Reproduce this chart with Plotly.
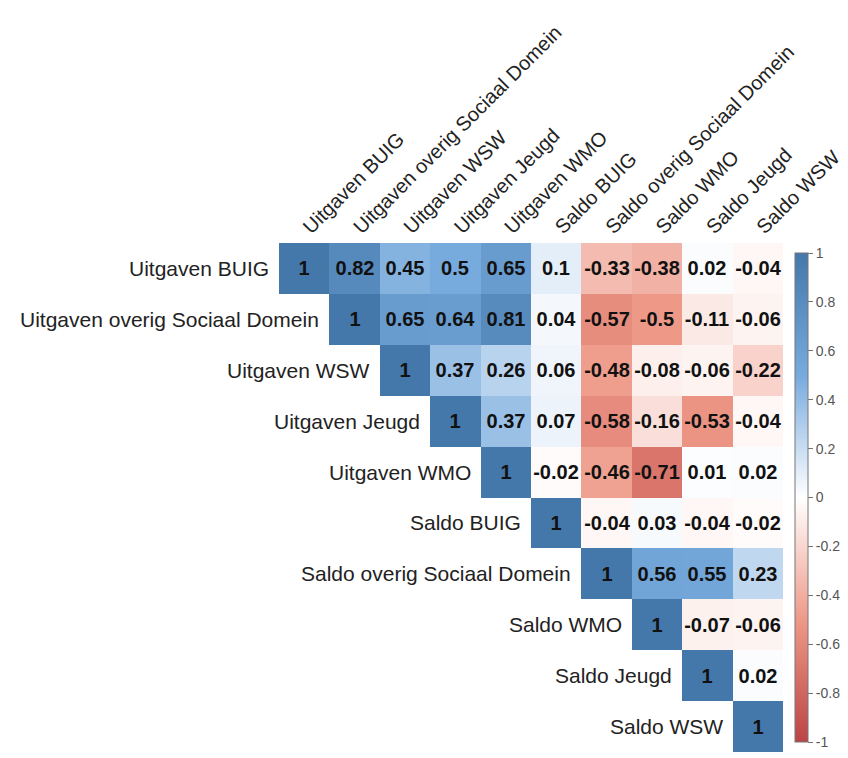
import plotly.graph_objects as go

variables = [
    "Uitgaven BUIG",
    "Uitgaven overig Sociaal Domein",
    "Uitgaven WSW",
    "Uitgaven Jeugd",
    "Uitgaven WMO",
    "Saldo BUIG",
    "Saldo overig Sociaal Domein",
    "Saldo WMO",
    "Saldo Jeugd",
    "Saldo WSW",
]

# upper triangle of the correlation matrix, row by row (diagonal included)
row_uitgaven_buig = [1, 0.82, 0.45, 0.5, 0.65, 0.1, -0.33, -0.38, 0.02, -0.04]
row_uitgaven_overig = [1, 0.65, 0.64, 0.81, 0.04, -0.57, -0.5, -0.11, -0.06]
row_uitgaven_wsw = [1, 0.37, 0.26, 0.06, -0.48, -0.08, -0.06, -0.22]
row_uitgaven_jeugd = [1, 0.37, 0.07, -0.58, -0.16, -0.53, -0.04]
row_uitgaven_wmo = [1, -0.02, -0.46, -0.71, 0.01, 0.02]
row_saldo_buig = [1, -0.04, 0.03, -0.04, -0.02]
row_saldo_overig = [1, 0.56, 0.55, 0.23]
row_saldo_wmo = [1, -0.07, -0.06]
row_saldo_jeugd = [1, 0.02]
row_saldo_wsw = [1]

upper_rows = [
    row_uitgaven_buig, row_uitgaven_overig, row_uitgaven_wsw,
    row_uitgaven_jeugd, row_uitgaven_wmo, row_saldo_buig,
    row_saldo_overig, row_saldo_wmo, row_saldo_jeugd, row_saldo_wsw,
]

cbar_ticks = [-1, -0.8, -0.6, -0.4, -0.2, 0, 0.2, 0.4, 0.6, 0.8, 1]

n = len(variables)
z = [[None] * n for _ in range(n)]
labels = [[""] * n for _ in range(n)]
for i, row in enumerate(upper_rows):
    for k, v in enumerate(row):
        z[i][i + k] = v
        labels[i][i + k] = f"{v:g}"

colorscale = [
    [0.0, "#BB4444"],
    [0.25, "#EE9988"],
    [0.5, "#FFFFFF"],
    [0.75, "#77AADD"],
    [1.0, "#4477AA"],
]

FONT = "Liberation Sans, Arial, sans-serif"

# plot area spans x 279..783 px, so the colorbar sits a few px to its right
PLOT_L, PLOT_R = 279, 65
plot_w = 848 - PLOT_L - PLOT_R
cbar_x = (795 - PLOT_L) / plot_w

fig = go.Figure(
    go.Heatmap(
        z=z,
        x=list(range(n)),
        y=list(range(n)),
        text=labels,
        texttemplate="<b>%{text}</b>",
        textfont=dict(family=FONT, size=20, color="#111111"),
        colorscale=colorscale,
        zmin=-1,
        zmax=1,
        xgap=0,
        ygap=0,
        hoverongaps=False,
        colorbar=dict(
            x=cbar_x,
            xanchor="left",
            xpad=0,
            y=0.5,
            yanchor="middle",
            len=1.0,
            lenmode="fraction",
            thickness=13,
            outlinewidth=1,
            outlinecolor="#777777",
            tickvals=cbar_ticks,
            ticktext=[f"{t:g}" for t in cbar_ticks],
            ticks="outside",
            ticklen=5,
            tickcolor="#777777",
            tickfont=dict(family=FONT, size=14, color="#555555"),
        ),
    )
)

# row labels sit just left of each diagonal cell
for i, name in enumerate(variables):
    fig.add_annotation(
        x=i - 0.5, y=i, xref="x", yref="y",
        text=name, showarrow=False,
        xanchor="right", yanchor="middle", xshift=-8,
        font=dict(family=FONT, size=21, color="#222222"),
    )

fig.update_xaxes(
    range=[-0.5, n - 0.5],
    side="top",
    tickmode="array",
    tickvals=list(range(n)),
    ticktext=variables,
    tickangle=-45,
    tickfont=dict(family=FONT, size=20, color="#222222"),
    ticks="",
    ticklen=0,
    showgrid=False,
    zeroline=False,
    showline=False,
)
fig.update_yaxes(
    range=[n - 0.5, -0.5],
    showticklabels=False,
    showgrid=False,
    zeroline=False,
    showline=False,
    ticks="",
)

fig.update_layout(
    width=848,
    height=758,
    margin=dict(l=PLOT_L, r=PLOT_R, t=243, b=6, autoexpand=False),
    paper_bgcolor="white",
    plot_bgcolor="white",
    showlegend=False,
)

fig.write_html("out.html")
